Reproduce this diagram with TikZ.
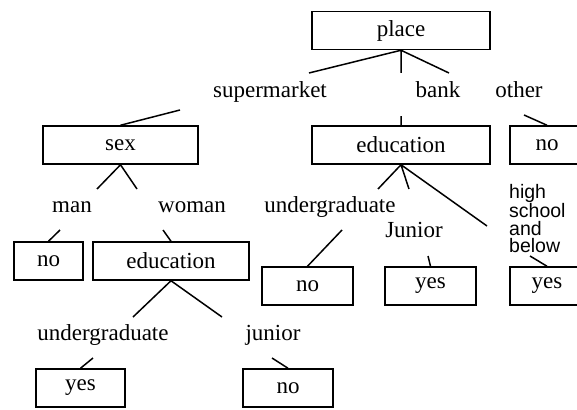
\documentclass[tikz,border=0pt]{standalone}
\usepackage{fontspec}
\setmainfont{Liberation Serif}
\newfontfamily\hsfont{Liberation Sans}

\begin{document}
\begin{tikzpicture}[x=1pt,y=-1pt,
  box/.style={draw,line width=1.5pt,minimum height=38pt,inner sep=0pt,font=\fontsize{23}{26}\selectfont},
  lab/.style={anchor=base,inner sep=0pt,font=\fontsize{23}{26}\selectfont},
  edge/.style={line width=1.5pt}]
\useasboundingbox (0,0) rectangle (577,409);
\clip (0,0) rectangle (577,409);
% boxes
\foreach \n/\x/\y/\w/\t in {place/401/30.5/178/place,sex/120.5/145/155/sex,
  eduA/401/145/178/education,noA/547/145/74/no,noB/48.5/261/69/no,
  eduB/171/261/156/education,noD/307.5/286/91/no,yesA/430.5/286/91/yes,
  yesC/547/286/74/yes,yesB/80.5/388/89/yes,noC/288/388/90/no}
 {\node[box,minimum width=\w pt] (\n) at (\x,\y) {\t};}
% branch labels
\foreach \n/\x/\y/\t in {sup/270/97/supermarket,bank/438/97/bank,oth/519/97/other,
  man/72/212/man,wom/192/212/woman,ugA/330/212/undergraduate,jun/414/237/Junior,
  ugB/103/340/undergraduate,junB/273/340/junior}
 {\node[lab] (\n) at (\x,\y) {\t};}
\node[anchor=north west,inner sep=0pt,align=left,font=\hsfont\fontsize{19.5}{17.6}\selectfont] (hsb) at (509,184) {high\\school\\and\\below};
% free ends of the branches
\foreach \c/\x/\y in {a1/309/73,a2/401/73,a3/449/73,b1/180/110,b2/401/116,b3/524/115,
  c1/97/189,c2/137/189,d1/60/230,d2/163/230,e1/133/317,e2/222/317,f1/93/358,f2/272/358,
  g1/378/189,g2/409/189,g3/487/226,h1/342/230,h2/428/256,h3/530/256}
 {\coordinate (\c) at (\x,\y);}
\draw[edge] (place.south)--(a1) (place.south)--(a2) (place.south)--(a3);
\draw[edge] (b1)--(sex.north) (b2)--(eduA.north) (b3)--(noA.north);
\draw[edge] (sex.south)--(c1) (sex.south)--(c2);
\draw[edge] (d1)--(noB.north) (d2)--(eduB.north);
\draw[edge] (eduB.south)--(e1) (eduB.south)--(e2);
\draw[edge] (f1)--(yesB.north) (f2)--(noC.north);
\draw[edge] (eduA.south)--(g1) (eduA.south)--(g2) (eduA.south)--(g3);
\draw[edge] (h1)--(noD.north) (h2)--(yesA.north) (h3)--(yesC.north);
\end{tikzpicture}
\end{document}
